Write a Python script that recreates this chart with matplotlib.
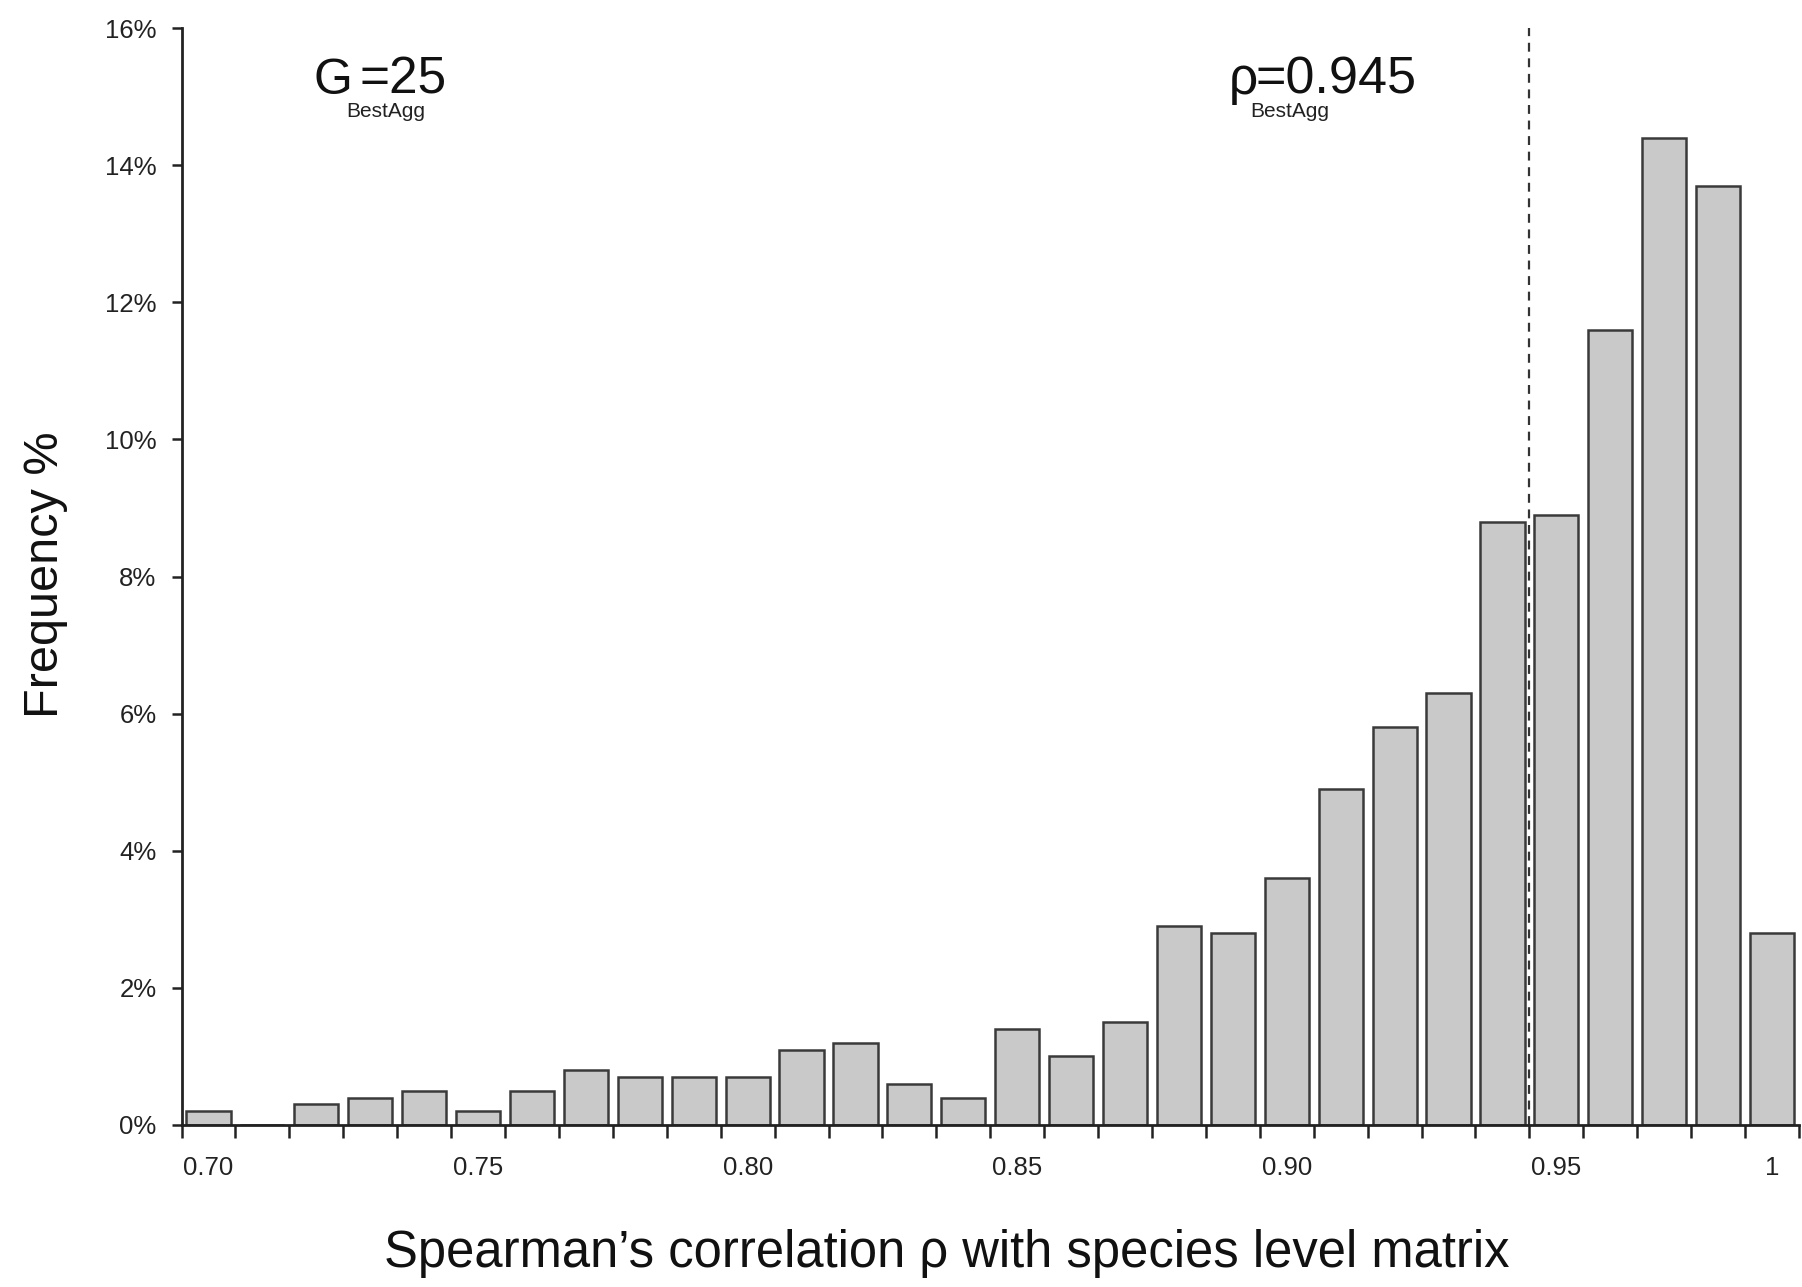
import matplotlib
matplotlib.use("Agg")
import matplotlib.pyplot as plt
import numpy as np

plt.rcParams['font.family'] = ['Liberation Sans', 'DejaVu Sans']

# data
bin_labels = ["0.70", "0.71", "0.72", "0.73", "0.74", "0.75", "0.76", "0.77", "0.78", "0.79",
              "0.80", "0.81", "0.82", "0.83", "0.84", "0.85", "0.86", "0.87", "0.88", "0.89",
              "0.90", "0.91", "0.92", "0.93", "0.94", "0.95", "0.96", "0.97", "0.98", "1"]
frequency = [0.2, 0.0, 0.3, 0.4, 0.5, 0.2, 0.5, 0.8, 0.7, 0.7,
             0.7, 1.1, 1.2, 0.6, 0.4, 1.4, 1.0, 1.5, 2.9, 2.8,
             3.6, 4.9, 5.8, 6.3, 8.8, 8.9, 11.6, 14.4, 13.7, 2.8]
shown_label_idx = [0, 5, 10, 15, 20, 25, 29]
rho_best = 0.945
g_best = 25
y_ticks = [0, 2, 4, 6, 8, 10, 12, 14, 16]

W, H = 1802, 1287
fig = plt.figure(figsize=(W / 100, H / 100), dpi=100)
left, right = 181.5 / W, 1799 / W
bottom, top = 1 - 1125 / H, 1 - 28 / H
ax = fig.add_axes([left, bottom, right - left, top - bottom])

x = np.arange(len(frequency))
ax.bar(x, frequency, width=0.82, color='#c9c9c9', edgecolor='#3a3a3a', linewidth=1.8, zorder=2)

ax.set_xlim(-0.5, len(frequency) - 0.5)
ax.set_ylim(0, 16)

# dashed line at rho_best (value -> category position)
pos = (rho_best - 0.70) / 0.01
ax.axvline(pos, ymin=0, ymax=1, color='#333333', linestyle=(0, (4, 3)), linewidth=1.6, zorder=3)

for s in ['top', 'right']:
    ax.spines[s].set_visible(False)
for s in ['left', 'bottom']:
    ax.spines[s].set_linewidth(2.0)
    ax.spines[s].set_color('#222222')
ax.spines['bottom'].set_zorder(4)

# x ticks: marks at bin boundaries, labels at selected categories
ax.set_xticks(np.arange(-0.5, len(frequency), 1.0))
ax.set_xticklabels([])
ax.tick_params(axis='x', which='major', direction='out', length=9, width=1.8, color='#222222')
ax.set_xticks(shown_label_idx, minor=True)
ax.set_xticklabels([bin_labels[i] for i in shown_label_idx], minor=True)
ax.tick_params(axis='x', which='minor', length=0, pad=22, labelsize=18.5, labelcolor='#222222')

ax.set_yticks(y_ticks)
ax.set_yticklabels([f"{v}%" for v in y_ticks])
ax.tick_params(axis='y', direction='out', length=7, width=1.8, color='#222222', pad=11,
               labelsize=18.5, labelcolor='#222222')

def fx(px):
    return px / W

def fy(py):
    return 1 - py / H

fig.text(fx(46), fy(575), "Frequency %", rotation=90, ha='center', va='center', fontsize=35, color='#111111')
fig.text(fx(947), fy(1267), "Spearman\u2019s correlation \u03c1 with species level matrix",
         ha='center', va='baseline', fontsize=36.5, color='#111111')

# annotation G_BestAgg = 25
fig.text(fx(314), fy(94), "G", ha='left', va='baseline', fontsize=36, color='#111111')
fig.text(fx(360), fy(94), f"={g_best}", ha='left', va='baseline', fontsize=37, color='#111111')
fig.text(fx(346), fy(117), "BestAgg", ha='left', va='baseline', fontsize=15, color='#222222')

# annotation rho_BestAgg = 0.945
fig.text(fx(1229), fy(94), "\u03c1", ha='left', va='baseline', fontsize=37, color='#111111')
fig.text(fx(1255), fy(94), f"={rho_best}", ha='left', va='baseline', fontsize=37.5, color='#111111')
fig.text(fx(1250), fy(117), "BestAgg", ha='left', va='baseline', fontsize=15, color='#222222')

fig.savefig("out.png", dpi=100, facecolor='white')
